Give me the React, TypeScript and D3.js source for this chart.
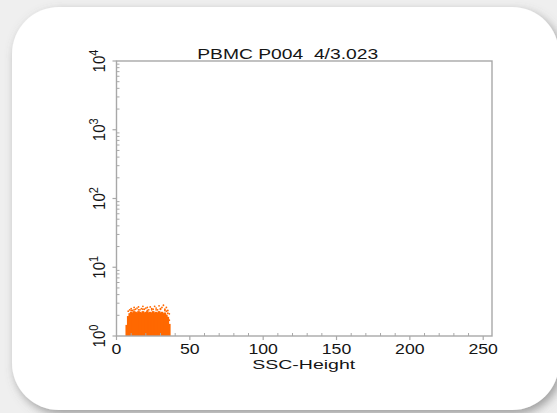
import React from "react";
import * as d3 from "d3";

const W = 557;
const H = 413;

const title = "PBMC P004  4/3.023";
const xLabel = "SSC-Height";
const xTicks = [0, 50, 100, 150, 200, 250];
const yExponents = [0, 1, 2, 3, 4];

// SSC-Height channels occupied by the event cloud and top of the dense part (FL value)
const channels = [7, 8, 9, 10, 11, 12, 13, 14, 15, 16, 17, 18, 19, 20, 21, 22, 23, 24, 25, 26, 27, 28, 29, 30, 31, 32, 33, 34, 35, 36];
const denseTop = [1.45, 1.95, 2.15, 2.25, 2.2, 2.3, 2.25, 2.2, 2.3, 2.25, 2.2, 2.3, 2.2, 2.25, 2.3, 2.2, 2.25, 2.2, 2.3, 2.2, 2.25, 2.2, 2.3, 2.2, 2.25, 2.15, 2.2, 2.05, 1.9, 1.5];

// sparse events above the dense cloud
const sparseX = [8, 9, 10, 11, 12, 13, 14, 15, 16, 17, 18, 19, 20, 21, 22, 23, 24, 25, 26, 27, 28, 29, 30, 31, 32, 33, 34, 35, 36, 36, 35, 34, 12, 18, 24, 30, 10, 15, 21, 27, 33];
const sparseY = [2.3, 2.4, 2.5, 2.35, 2.6, 2.45, 2.55, 2.65, 2.4, 2.5, 2.7, 2.45, 2.55, 2.6, 2.4, 2.65, 2.5, 2.45, 2.7, 2.55, 2.4, 2.75, 2.5, 2.6, 2.8, 2.45, 2.6, 2.35, 2.1, 1.7, 2.15, 2.3, 2.4, 2.45, 2.4, 2.45, 2.35, 2.4, 2.35, 2.4, 2.35];

const PL = 116.5, PR = 492, PT = 61, PB = 336;
const FONT = "'Liberation Sans', Arial, Helvetica, sans-serif";
const ORANGE = "#ff6800";
const AXIS = "#a8a8a8";
const SX = 1.22;

export default function App() {
  const x = d3.scaleLinear().domain([0, 256]).range([PL, PR]);
  const y = d3.scaleLog().domain([1, 10000]).range([PB, PT]);

  const xMinor = d3.range(0, 257, 10).filter((v) => v % 50 !== 0);
  const yMinor: number[] = [];
  for (let e = 0; e < 4; e++) for (let m = 2; m <= 9; m++) yMinor.push(m * Math.pow(10, e));

  return (
    <svg width={W} height={H} style={{ position: "absolute", left: 0, top: 0, display: "block" }}>
      <defs>
        <filter id="shadow" x="-10%" y="-10%" width="130%" height="130%">
          <feDropShadow dx="3" dy="4" stdDeviation="5" floodColor="#666" floodOpacity="0.6" />
        </filter>
      </defs>
      <rect x={0} y={0} width={W} height={H} fill="#efefef" />
      <rect x={12} y={7} width={547} height={403} rx={47} ry={47} fill="#ffffff" filter="url(#shadow)" />

      {/* scatter: dense cloud per channel */}
      <g>
        {channels.map((c, i) => (
          <rect key={"c" + i} x={x(c) - 1.3} y={y(denseTop[i])} width={2.6} height={y(1) - y(denseTop[i])} fill={ORANGE} />
        ))}
        {sparseX.map((c, i) => (
          <circle key={"s" + i} cx={x(c)} cy={y(sparseY[i])} r={0.9} fill={ORANGE} />
        ))}
      </g>

      {/* frame */}
      <rect x={PL} y={PT} width={PR - PL} height={PB - PT} fill="none" stroke={AXIS} strokeWidth={1.4} />

      {/* x ticks */}
      {xMinor.map((v) => (
        <line key={"xm" + v} x1={x(v)} x2={x(v)} y1={PB} y2={PB - 3} stroke={AXIS} strokeWidth={1} />
      ))}
      {xTicks.map((v) => (
        <line key={"xM" + v} x1={x(v)} x2={x(v)} y1={PB} y2={PB + 4} stroke={AXIS} strokeWidth={1.2} />
      ))}
      {xTicks.map((v) => (
        <text key={"xl" + v} transform={`translate(${x(v)},${354}) scale(${SX},1)`} textAnchor="middle" fontFamily={FONT} fontSize={14.5} fill="#151515">
          {v}
        </text>
      ))}

      {/* y ticks */}
      {yMinor.map((v) => (
        <line key={"ym" + v} x1={PL} x2={PL + 3} y1={y(v)} y2={y(v)} stroke={AXIS} strokeWidth={1} />
      ))}
      {yExponents.map((e) => (
        <line key={"yM" + e} x1={PL - 4} x2={PL} y1={y(Math.pow(10, e))} y2={y(Math.pow(10, e))} stroke={AXIS} strokeWidth={1.2} />
      ))}
      {yExponents.map((e) => (
        <text key={"yl" + e} transform={`translate(${105},${y(Math.pow(10, e))}) scale(1.15,1) rotate(-90)`} textAnchor="middle" fontFamily={FONT} fontSize={15} fill="#151515">
          <tspan>10</tspan>
          <tspan dy={-6} fontSize={11}>{e}</tspan>
        </text>
      ))}

      {/* title and axis label */}
      <text x={287.7} y={59} textAnchor="middle" fontFamily={FONT} fontSize={15} fill="#151515" textLength={181} lengthAdjust="spacingAndGlyphs" style={{ whiteSpace: "pre" }}>
        {title}
      </text>
      <text x={303.7} y={369} textAnchor="middle" fontFamily={FONT} fontSize={13.5} fill="#151515" textLength={103} lengthAdjust="spacingAndGlyphs">
        {xLabel}
      </text>
    </svg>
  );
}
